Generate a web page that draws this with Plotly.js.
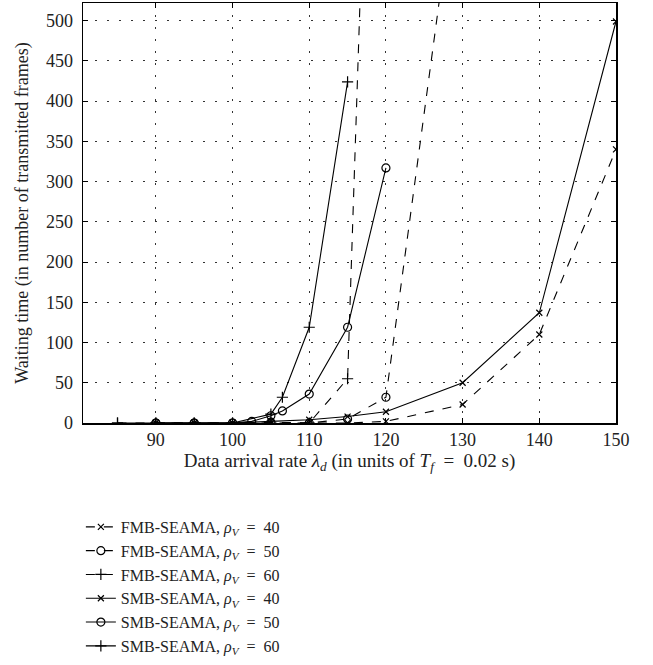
<!DOCTYPE html>
<html>
<head>
<meta charset="utf-8">
<script src="https://cdn.plot.ly/plotly-3.0.1.min.js"></script>
<style>html,body{margin:0;padding:0;background:#fff;}#chart{width:653px;height:665px;}</style>
</head>
<body>
<div id="chart"></div>
<script>
// Data
const fmb40_x = [90, 95, 100, 105, 110, 115, 120, 130, 140, 150];
const fmb40_y = [0, 0, 0, 0, 0, 0, 2, 23, 110, 340];

const fmb50_x = [90, 95, 100, 105, 110, 115, 120, 130];
const fmb50_y = [0, 0, 0, 1, 0, 5, 32, 740];

const fmb60_x = [85, 90, 95, 100, 105, 110, 115, 120];
const fmb60_y = [0, 0, 0, 0, 0, 0, 55, 1500];

const smb40_x = [90, 95, 100, 105, 110, 115, 120, 130, 140, 150];
const smb40_y = [0, 0, 0, 2, 4, 8, 14, 50, 137, 499];

const smb50_x = [90, 95, 100, 102.5, 105, 106.5, 110, 115, 120];
const smb50_y = [0, 0, 0, 2, 9, 15, 36, 119, 317];

const smb60_x = [85, 90, 95, 100, 105, 106.5, 110, 115];
const smb60_y = [0, 0, 0, 0, 11, 32, 119, 424];

const EQ = '\u2002=\u2002';
const seriesNames = [
  'FMB-SEAMA, <i>ρ</i><sub><i>V</i></sub>' + EQ + '40',
  'FMB-SEAMA, <i>ρ</i><sub><i>V</i></sub>' + EQ + '50',
  'FMB-SEAMA, <i>ρ</i><sub><i>V</i></sub>' + EQ + '60',
  'SMB-SEAMA, <i>ρ</i><sub><i>V</i></sub>' + EQ + '40',
  'SMB-SEAMA, <i>ρ</i><sub><i>V</i></sub>' + EQ + '50',
  'SMB-SEAMA, <i>ρ</i><sub><i>V</i></sub>' + EQ + '60'
];
const xTicks = [90, 100, 110, 120, 130, 140, 150];
const yTicks = [0, 50, 100, 150, 200, 250, 300, 350, 400, 450, 500];

const xs = [fmb40_x, fmb50_x, fmb60_x, smb40_x, smb50_x, smb60_x];
const ys = [fmb40_y, fmb50_y, fmb60_y, smb40_y, smb50_y, smb60_y];
const dashes = ['dash', 'dash', 'dash', 'solid', 'solid', 'solid'];
const symbols = ['x-thin-open', 'circle-open', 'cross-thin-open', 'x-thin-open', 'circle-open', 'cross-thin-open'];
const sizes = [6, 8, 8, 6, 8, 8];

const traces = xs.map((x, i) => ({
  x: x, y: ys[i], name: seriesNames[i], type: 'scatter', mode: 'lines+markers',
  line: {color: '#000', width: 1.1, dash: dashes[i]},
  marker: {symbol: symbols[i], size: sizes[i], color: '#000', line: {color: '#000', width: 1.2}}
}));

const fontFam = '"Liberation Serif", "DejaVu Serif", serif';
const layout = {
  width: 653, height: 665,
  margin: {l: 83, r: 37, t: 3, b: 242, autoexpand: false},
  paper_bgcolor: '#fff', plot_bgcolor: '#fff',
  font: {family: fontFam, size: 18, color: '#222'},
  showlegend: true,
  legend: {x: -0.004, xanchor: 'left', y: -0.207, yanchor: 'top', bgcolor: 'rgba(0,0,0,0)',
           font: {family: fontFam, size: 16, color: '#222'}, tracegroupgap: 0},
  xaxis: {
    range: [80.5, 150], tickvals: xTicks, ticktext: xTicks.map(String),
    ticks: 'inside', ticklen: 5, tickcolor: '#000', showline: true, linecolor: '#000', linewidth: 1.5, mirror: 'ticks',
    showgrid: true, gridcolor: '#333', gridwidth: 1, griddash: '2px,10px', zeroline: false,
    tickfont: {family: fontFam, size: 18, color: '#222'},
    title: {text: 'Data arrival rate <i>λ</i><sub><i>d</i></sub> (in units of <i>T</i><sub><i>f</i></sub>' + EQ + '0.02 s)', font: {family: fontFam, size: 19, color: '#222'}, standoff: 4}
  },
  yaxis: {
    range: [0, 522], tickvals: yTicks, ticktext: yTicks.map(String),
    ticks: 'inside', ticklen: 5, tickcolor: '#000', showline: true, linecolor: '#000', linewidth: 1.5, mirror: 'ticks',
    showgrid: true, gridcolor: '#333', gridwidth: 1, griddash: '2px,10px', zeroline: false,
    tickfont: {family: fontFam, size: 18, color: '#222'}, ticklabelstandoff: 5,
    title: {text: 'Waiting time (in number of transmitted frames)', font: {family: fontFam, size: 18, color: '#222'}, standoff: 12}
  }
};
Plotly.newPlot('chart', traces, layout, {displayModeBar: false, staticPlot: true});
</script>
</body>
</html>
